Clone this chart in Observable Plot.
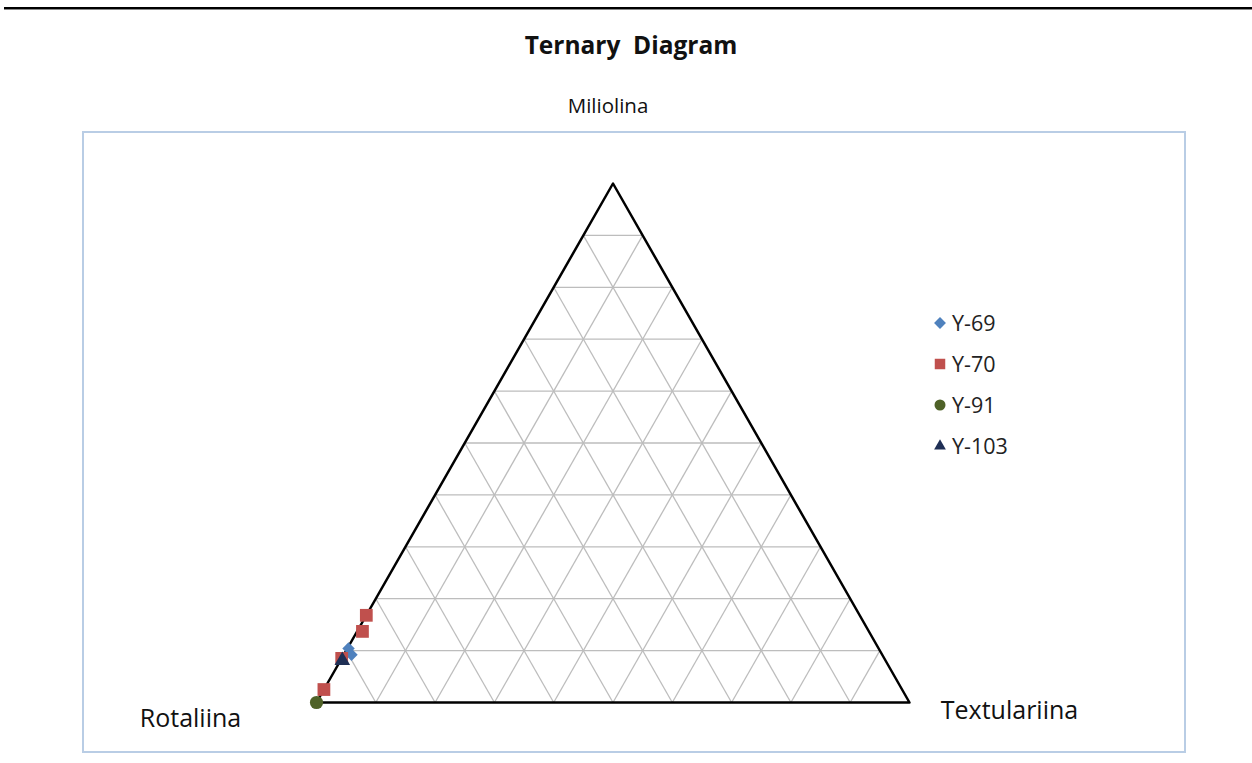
<!DOCTYPE html>
<html>
<head>
<meta charset="utf-8">
<script src="https://cdn.jsdelivr.net/npm/d3@7"></script>
<script src="https://cdn.jsdelivr.net/npm/@observablehq/plot@0.6"></script>
<style>
  html, body { margin: 0; padding: 0; background: #fff; }
  #page { position: relative; width: 1252px; height: 763px; overflow: hidden; font-family: "Open Sans", Lato, sans-serif; }
  #rule { position: absolute; left: 4px; top: 7px; width: 1248px; height: 2px; background: #000; border-bottom: 1px solid #888; }
  #title { position: absolute; left: 0; width: 1262px; top: 28px; line-height: 34px; text-align: center; font-weight: bold; font-size: 24.5px; color: #111; white-space: pre; }
  #box { position: absolute; left: 82px; top: 131px; width: 1100px; height: 618px; border: 2px solid #b9cde5; }
  #chart { position: absolute; left: 0; top: 0; }
  #legend { position: absolute; left: 931px; top: 302px; font-size: 21.5px; color: #222; }
  .li { display: flex; align-items: center; height: 41px; }
  .li svg { width: 18px; height: 18px; margin-right: 3px; }
</style>
</head>
<body>
<div id="page">
  <div id="rule"></div>
  <div id="title">Ternary  Diagram</div>
  <div id="box"></div>
  <div id="chart"></div>
  <div id="legend"></div>
</div>
<script>
// Axis names (vertices)
const axisTop = "Miliolina";
const axisLeft = "Rotaliina";
const axisRight = "Textulariina";

// Grid tick fractions
const gridTicks = [0.1, 0.2, 0.3, 0.4, 0.5, 0.6, 0.7, 0.8, 0.9];

// Series (percentages)
const seriesNames = ["Y-69", "Y-70", "Y-91", "Y-103"];
const y69_Miliolina = [10.4, 9.2];
const y69_Textulariina = [0.2, 1.3];
const y69_Rotaliina = [89.4, 89.5];

const y70_Miliolina = [16.8, 13.7, 8.5, 2.5];
const y70_Textulariina = [0.0, 0.9, 0.0, 0.0];
const y70_Rotaliina = [83.2, 85.4, 91.5, 97.5];

const y91_Miliolina = [0.0];
const y91_Textulariina = [0.0];
const y91_Rotaliina = [100.0];

const y103_Miliolina = [8.1];
const y103_Textulariina = [0.3];
const y103_Rotaliina = [91.6];

const seriesColors = ["#4f81bd", "#c0504d", "#4f6228", "#1f2f55"];
const seriesSymbols = ["diamond2", "square", "circle", "triangle"];
const seriesR = [5.6, 7.2, 6.6, 5.8];

// ternary -> cartesian (x: 0..1 along base, y: 0..1 height fraction)
function tern(r, m, t) {
  const s = r + m + t;
  const M = m / s, T = t / s;
  return {x: T + M / 2, y: M};
}

const raw = [
  [y69_Rotaliina, y69_Miliolina, y69_Textulariina],
  [y70_Rotaliina, y70_Miliolina, y70_Textulariina],
  [y91_Rotaliina, y91_Miliolina, y91_Textulariina],
  [y103_Rotaliina, y103_Miliolina, y103_Textulariina]
];
const points = [];
raw.forEach(([R, M, T], si) => {
  R.forEach((r, i) => {
    const p = tern(r, M[i], T[i]);
    points.push({series: seriesNames[si], ...p});
  });
});

// grid segments
const grid = [];
for (const k of gridTicks) {
  let a = tern(1 - k, k, 0), b = tern(0, k, 1 - k);
  grid.push({x1: a.x, y1: a.y, x2: b.x, y2: b.y});
  a = tern(1 - k, 0, k); b = tern(0, 1 - k, k);
  grid.push({x1: a.x, y1: a.y, x2: b.x, y2: b.y});
  a = tern(k, 0, 1 - k); b = tern(k, 1 - k, 0);
  grid.push({x1: a.x, y1: a.y, x2: b.x, y2: b.y});
}

const vL = tern(1, 0, 0), vT = tern(0, 1, 0), vR = tern(0, 0, 1);
const outline = [vL, vR, vT, vL];
const vertexLabels = [
  {...vT, label: axisTop, dx: -5, dy: -77, size: 20.5},
  {...vL, label: axisLeft, dx: -126, dy: 16, size: 25},
  {...vR, label: axisRight, dx: 100, dy: 8, size: 25}
];

const plot = Plot.plot({
  width: 1252,
  height: 763,
  marginLeft: 316,
  marginRight: 343,
  marginTop: 183,
  marginBottom: 61,
  x: {domain: [0, 1], axis: null},
  y: {domain: [0, 1], axis: null},
  style: {background: "transparent", fontFamily: "'Open Sans', Lato, sans-serif"},
  marks: [
    Plot.link(grid, {x1: "x1", y1: "y1", x2: "x2", y2: "y2", stroke: "#bdbdbd", strokeWidth: 1.3}),
    Plot.line(outline, {x: "x", y: "y", stroke: "#000", strokeWidth: 2.5}),
    ...seriesNames.map((name, i) =>
      Plot.dot(points.filter(d => d.series === name), {
        x: "x", y: "y", symbol: () => seriesSymbols[i], fill: seriesColors[i], stroke: "none", r: seriesR[i]
      })
    ),
    ...vertexLabels.map(v =>
      Plot.text([v], {x: "x", y: "y", text: "label", dx: v.dx, dy: v.dy, fontSize: v.size, fill: "#111", textAnchor: "middle"})
    )
  ],
  symbol: {type: "identity"}
});
document.getElementById("chart").appendChild(plot);

// legend
const leg = document.getElementById("legend");
const symTypes = {diamond2: d3.symbolDiamond2, square: d3.symbolSquare, circle: d3.symbolCircle, triangle: d3.symbolTriangle};
seriesNames.forEach((name, i) => {
  const row = document.createElement("div");
  row.className = "li";
  const sym = d3.symbol().type(symTypes[seriesSymbols[i]]).size([90, 110, 95, 60][i])();
  row.innerHTML = `<svg viewBox="-9 -9 18 18"><path d="${sym}" fill="${seriesColors[i]}"/></svg><span>${name}</span>`;
  leg.appendChild(row);
});
</script>
</body>
</html>
